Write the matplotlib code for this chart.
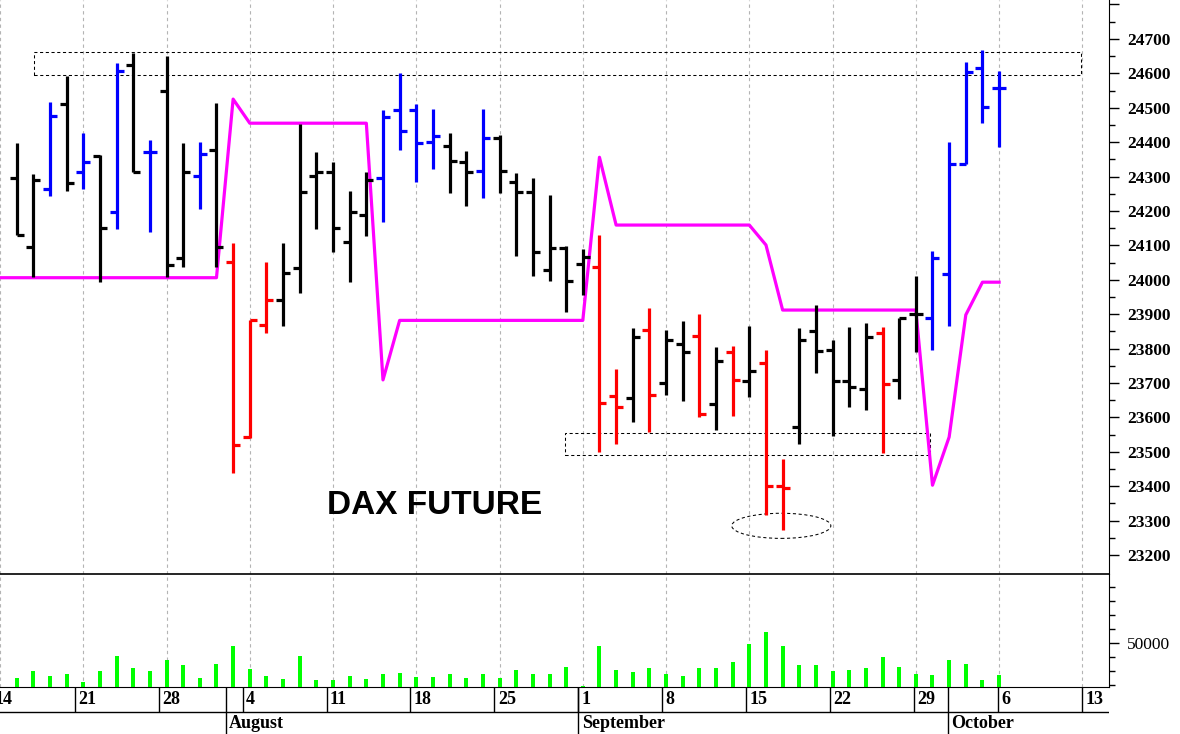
import matplotlib
matplotlib.use('Agg')
import matplotlib.pyplot as plt
import matplotlib.patches as patches
import numpy as np

# --- datos: barras diarias desde el martes 15 de julio (indice 0) hasta el 6 de octubre ---
opens = [24295, 24095, 24264, 24510, 24314, 24360, 24198, 24624, 24371, 24549,
         24062, 24303, 24376, 24053, 23544, 23869, 23941, 24033, 24303, 24314,
         24111, 24188, 24295, 24494, 24494, 24401, 24390, 24342, 24317, 24413,
         24285, 24256, 24028, 24092, 24046, 24038, 23662, 23655, 23855, 23699,
         23813, 23837, 23639, 23790, 23707, 23757, 23401, 23571, 23852, 23797,
         23707, 23682, 23845, 23709, 23901, 23888, 24017, 24337, 24615, 24557]
highs = [24397, 24308, 24518, 24592, 24426, 24363, 24629, 24658, 24406, 24649,
         24397, 24401, 24513, 24106, 23883, 24051, 24108, 24453, 24370, 24343,
         24259, 24314, 24494, 24600, 24511, 24496, 24426, 24375, 24496, 24421,
         24311, 24295, 24247, 24098, 24088, 24130, 23740, 23859, 23917, 23854,
         23881, 23901, 23804, 23808, 23866, 23796, 23478, 23859, 23927, 23825,
         23864, 23874, 23864, 23888, 24011, 24085, 24399, 24634, 24668, 24608]
lows = [24130, 24009, 24244, 24259, 24263, 23994, 24147, 24312, 24140, 24009,
        24038, 24205, 24038, 23439, 23540, 23844, 23866, 23961, 24147, 24082,
        23994, 24127, 24169, 24378, 24285, 24321, 24253, 24215, 24239, 24253,
        24069, 24011, 23997, 23907, 23956, 23500, 23524, 23586, 23558, 23665,
        23649, 23600, 23563, 23605, 23660, 23316, 23274, 23524, 23730, 23546,
        23631, 23623, 23497, 23653, 23791, 23796, 23866, 24335, 24457, 24387]
closes = [24130, 24290, 24476, 24280, 24343, 24150, 24608, 24312, 24371, 24043,
          24314, 24365, 24096, 23520, 23883, 23941, 24021, 24256, 24314, 24150,
          24198, 24290, 24474, 24431, 24397, 24418, 24346, 24314, 24411, 24317,
          24256, 24082, 24092, 23997, 24067, 23643, 23629, 23835, 23665, 23826,
          23789, 23610, 23765, 23709, 23736, 23401, 23394, 23826, 23794, 23707,
          23689, 23835, 23697, 23888, 23900, 24062, 24337, 24605, 24501, 24557]
# k = negro, b = azul, r = rojo
bar_colors = "kkbkbkbkbk" "kbkrrrkkkk" "kkbbbbkkbk" "kkkkkrrkrk" "krkrkrrkkk" "kkrkkbbbbb"

volume = [25300, 29800, 26700, 27600, 22400, 29800, 41000, 32400, 29800, 37600,
          33900, 25300, 34800, 48100, 31700, 26700, 24600, 41000, 23400, 23400,
          26700, 24600, 27600, 28600, 25500, 25500, 27600, 24800, 27600, 24800,
          31000, 27600, 27600, 32600, 19600, 48100, 30500, 29600, 32400, 28100,
          26700, 32400, 32400, 36700, 48900, 57400, 47900, 33900, 34600, 29800,
          30700, 31900, 39600, 32600, 28100, 27400, 37600, 34800, 23400, 27400]

# linea magenta (empieza el lunes 14 de julio, indice -1)
stop_start = -1
stop_line = [24006, 24006, 24006, 24006, 24006, 24006, 24006, 24006, 24006, 24006,
             24006, 24006, 24006, 24006, 24525, 24455, 24455, 24455, 24455, 24455,
             24455, 24455, 24455, 23709, 23882, 23882, 23882, 23882, 23882, 23882,
             23882, 23882, 23882, 23882, 23882, 23882, 24356, 24159, 24159, 24159,
             24159, 24159, 24159, 24159, 24159, 24159, 24101, 23912, 23912, 23912,
             23912, 23912, 23912, 23912, 23912, 23912, 23403, 23543, 23898, 23993,
             23993]

# eje de fechas
mondays = [-1, 4, 9, 14, 19, 24, 29, 34, 39, 44, 49, 54, 59, 64]
day_labels = ['14', '21', '28', '4', '11', '18', '25', '1', '8', '15', '22', '29', '6', '13']
month_starts = [13, 34, 56]
month_names = ['August', 'September', 'October']

# zonas marcadas (indice inicio, indice fin, precio bajo, precio alto)
top_zone = (1.07, 63.9, 24595, 24663)
mid_zone = (32.93, 54.85, 23491, 23554)
low_ellipse = (45.92, 23285, 5.95, 73)  # centro x, centro y, ancho, alto

color_map = {'k': 'black', 'b': '#0000ff', 'r': '#ff0000'}
serif = 'Liberation Serif'

W, H = 1180, 734
xlim = (-0.447, 65.6)
right = 1109 / W

fig = plt.figure(figsize=(W / 100, H / 100), dpi=100)
axv = fig.add_axes([0, 1 - 687 / H, right, 113 / H])
ax = fig.add_axes([0, 1 - 574 / H, right, 574 / H])
axd = fig.add_axes([0, 0, right, 47 / H])

# --- panel de precios ---
x = np.arange(len(opens))
cols = [color_map[c] for c in bar_colors]
tick_w = 0.42
ax.vlines(x, lows, highs, colors=cols, lw=2.3, zorder=5)
ax.hlines(opens, x - tick_w, x, colors=cols, lw=2.3, zorder=5)
ax.hlines(closes, x, x + tick_w, colors=cols, lw=2.3, zorder=5)

xs = np.arange(stop_start, stop_start + len(stop_line))
ax.plot(xs, stop_line, color='#ff00ff', lw=2.3, zorder=4)

dash = (0, (3, 2.5))
ax.add_patch(patches.Rectangle((top_zone[0], top_zone[2]), top_zone[1] - top_zone[0],
                               top_zone[3] - top_zone[2], fill=False, ec='black',
                               lw=0.75, ls=dash, zorder=3))
ax.add_patch(patches.Rectangle((mid_zone[0], mid_zone[2]), mid_zone[1] - mid_zone[0],
                               mid_zone[3] - mid_zone[2], fill=False, ec='black',
                               lw=0.75, ls=dash, zorder=3))
ax.add_patch(patches.Ellipse((low_ellipse[0], low_ellipse[1]), low_ellipse[2], low_ellipse[3],
                             fill=False, ec='black', lw=0.75, ls=dash, zorder=3))

ax.text(18.65, 23343, 'DAX FUTURE', fontsize=24, fontweight='bold',
        family='Liberation Sans', ha='left', va='center', zorder=6)

ax.set_xlim(*xlim)
ax.set_ylim(23145, 24813)
ax.set_xticks(mondays)
ax.tick_params(axis='x', length=0, labelbottom=False)
ax.grid(axis='x', color='#b4b4b4', ls=(0, (3, 3)), lw=0.8)
ax.yaxis.tick_right()
ax.set_yticks(np.arange(23200, 24801, 100))
ax.set_yticklabels([str(v) for v in range(23200, 24701, 100)] + [''])
ax.set_yticks(np.arange(23250, 24800, 100), minor=True)
ax.tick_params(axis='y', which='major', length=7.5, width=1, pad=5.5, labelsize=12.5)
ax.tick_params(axis='y', which='minor', length=4.5, width=1)
for lab in ax.get_yticklabels():
    lab.set_fontfamily(serif)
    lab.set_fontweight('bold')
for s in ['left', 'top']:
    ax.spines[s].set_visible(False)
ax.patch.set_visible(False)
ax.spines['bottom'].set_linewidth(1.2)

# --- panel de volumen ---
axv.bar(x, volume, width=0.24, color='#00ff00', zorder=3)
axv.set_xlim(*xlim)
axv.set_ylim(18600, 99000)
axv.set_xticks(mondays)
axv.tick_params(axis='x', length=0, labelbottom=False)
axv.grid(axis='x', color='#b4b4b4', ls=(0, (3, 3)), lw=0.8)
axv.yaxis.tick_right()
axv.set_yticks([50000])
axv.set_yticklabels(['50000'])
axv.set_yticks([20000, 30000, 40000, 60000, 70000, 80000, 90000], minor=True)
axv.tick_params(axis='y', which='major', length=7.5, width=1, pad=5.5, labelsize=12.5)
axv.tick_params(axis='y', which='minor', length=4.5, width=1)
for lab in axv.get_yticklabels():
    lab.set_fontfamily(serif)
for s in ['left', 'top']:
    axv.spines[s].set_visible(False)

# --- filas de fechas ---
axd.set_xlim(*xlim)
axd.set_ylim(0, 47)
axd.axis('off')
axd.axhline(22.3, color='black', lw=1)
axd.vlines(mondays, 22.3, 47, color='black', lw=1)
axd.vlines(month_starts, 0, 47, color='black', lw=1)
for m, lab in zip(mondays, day_labels):
    axd.text(m + 0.2, 34.5, lab, ha='left', va='center', fontsize=13,
             family=serif, fontweight='bold')
for m, name in zip(month_starts, month_names):
    axd.text(m + 0.2, 10.5, name, ha='left', va='center', fontsize=13,
             family=serif, fontweight='bold')

fig.savefig('out.png', dpi=100)
